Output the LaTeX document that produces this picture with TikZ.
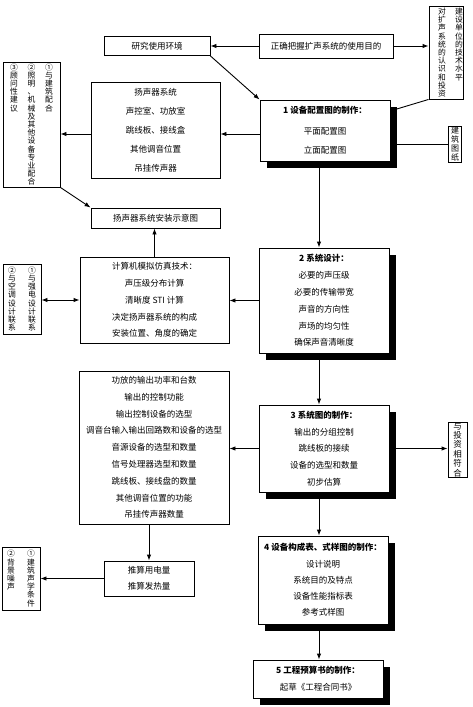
\documentclass[tikz,border=0pt]{standalone}
\usepackage{fontspec}
\setmainfont{Noto Sans CJK SC}
\usetikzlibrary{arrows.meta,shadows}

% vertical (top to bottom) column of characters
\makeatletter
\newcommand\vtxt[1]{\vtop{\lineskiplimit=-100pt\@tfor\vtchar:=#1\do{\hbox to 1em{\hss\vtchar\hss}}}}
\makeatother

\tikzset{
  plainbox/.style={draw, fill=white, inner sep=0pt, align=center,
    font=\fontsize{8.5}{16.8}\selectfont},
  stagebox/.style={plainbox,
    drop shadow={shadow xshift=6.5pt, shadow yshift=-6.5pt, fill=black, opacity=1}},
  notebox/.style={draw, inner sep=0pt, font=\fontsize{7.8}{8.2}\selectfont},
}

\begin{document}
\begin{tikzpicture}[x=1pt,y=-1pt,line width=0.9pt,>={Latex[length=6pt,width=4.5pt]}]
\useasboundingbox (0,0) rectangle (472,707);
\coordinate (spine) at (319,0);

% top row
\node[plainbox, minimum width=106pt, minimum height=19pt] (env) at (157,46) {研究使用环境};
\node[plainbox, minimum width=134pt, minimum height=24pt] (goal) at (326,46) {正确把握扩声系统的使用目的};
\node[notebox, minimum width=34pt, minimum height=93pt] (client) at (446,52.5)
  {\hskip9pt\vtxt{对扩声系统的认识和投资}\hskip9.2pt\vtxt{建设单位的技术水平}};

% stage 1
\node[notebox, minimum width=57pt, minimum height=125pt] (coop) at (31.5,124.5)
  {\vtxt{③顾问性建议}\hskip9.7pt\vtxt{②照明、机械及其他设备专业配合}\hskip9.7pt\vtxt{①与建筑配合}};
\node[plainbox, minimum width=129pt, minimum height=96pt, font=\fontsize{8.5}{19}\selectfont] (spk) at (155.5,130)
  {扬声器系统\\声控室、功放室\\跳线板、接线盒\\其他调音位置\\吊挂传声器};
\node[stagebox, minimum width=130pt, minimum height=61pt, font=\fontsize{8.5}{19}\selectfont] (plan) at (325,130.5)
  {\textbf{1 设备配置图的制作：}\\[2pt]平面配置图\\立面配置图};
\node[notebox, minimum width=13pt, minimum height=36pt, font=\fontsize{8}{9}\selectfont] (drawings) at (455,144)
  {\vtxt{建筑图纸}};
\node[plainbox, minimum width=129pt, minimum height=20pt] (mount) at (155.5,218) {扬声器系统安装示意图};

% stage 2
\node[notebox, minimum width=38pt, minimum height=70pt] (hvac) at (22,299)
  {\vtxt{②与空调设计联系}\hskip12.2pt\vtxt{①与强电设计联系}};
\node[plainbox, minimum width=149pt, minimum height=86pt] (sim) at (154.5,300)
  {计算机模拟仿真技术：\\声压级分布计算\\清晰度 STI 计算\\决定扬声器系统的构成\\安装位置、角度的确定};
\node[stagebox, minimum width=130pt, minimum height=105pt] (design) at (324,300.5)
  {\textbf{2 系统设计：}\\必要的声压级\\必要的传输带宽\\声音的方向性\\声场的均匀性\\确保声音清晰度};

% stage 3
\node[plainbox, minimum width=150pt, minimum height=153pt] (specs) at (154,447.5)
  {功放的输出功率和台数\\输出的控制功能\\输出控制设备的选型\\调音台输入输出回路数和设备的选型\\音源设备的选型和数量\\信号处理器选型和数量\\跳线板、接线盘的数量\\其他调音位置的功能\\吊挂传声器数量};
\node[stagebox, minimum width=130pt, minimum height=87pt] (diagram) at (324,448.5)
  {\textbf{3 系统图的制作：}\\输出的分组控制\\跳线板的接续\\设备的选型和数量\\初步估算};
\node[notebox, minimum width=19pt, minimum height=55pt, font=\fontsize{8.5}{9.4}\selectfont] (budget) at (457.5,449.5)
  {\vtxt{与投资相符合}};

% stage 4 and 5
\node[notebox, minimum width=38pt, minimum height=63pt] (acoustics) at (21,578.5)
  {\vtxt{②背景噪声}\hskip12.2pt\vtxt{①建筑声学条件}};
\node[plainbox, minimum width=90pt, minimum height=35pt, font=\fontsize{8.5}{16}\selectfont] (power) at (149,578.5)
  {推算用电量\\推算发热量};
\node[stagebox, minimum width=130pt, minimum height=88pt, font=\fontsize{8.5}{16.3}\selectfont] (table) at (323,580)
  {\textbf{4 设备构成表、式样图的制作：}\\设计说明\\系统目的及特点\\设备性能指标表\\参考式样图};
\node[stagebox, minimum width=130pt, minimum height=38pt, font=\fontsize{8.5}{17}\selectfont] (estimate) at (318,679)
  {\textbf{5 工程预算书的制作：}\\起草《工程合同书》};

% connectors
\draw[->] (goal) -- (env);
\draw[->] (goal.east) -- (goal.east -| client.west);
\draw[->] (env.south east) -- (plan.north west);
\draw (client.south west) -- (plan);
\draw (drawings.west) -- (drawings.west -| plan.east);
\draw[->] ([yshift=-3.5pt]plan.west) -- ([yshift=-3.5pt]plan.west -| spk.east);
\draw[->] ([yshift=-4pt]spk.west) -- ([yshift=-4pt]spk.west -| coop.east);
\draw[->] (coop.south east) -- (mount.north west);
\draw[->] (sim.north) -- (sim.north |- mount.south);
\draw[->] (plan.south -| spine) -- (design.north -| spine);
\draw[->] (design.west) -- (design.west -| sim.east);
\draw[<->] (sim.west) -- (sim.west -| hvac.east);
\draw[->] (design.south -| spine) -- (diagram.north -| spine);
\draw[->] (diagram.west) -- (diagram.west -| specs.east);
\draw[->] (diagram.east) -- (diagram.east -| budget.west);
\draw[->] (diagram.south -| spine) -- (table.north -| spine);
\draw[->] (table.south -| spine) -- (estimate.north -| spine);
\draw[->] (specs.south -| power.north) -- (power.north);
\draw[->] (power.west) -- (power.west -| acoustics.east);
\end{tikzpicture}
\end{document}
